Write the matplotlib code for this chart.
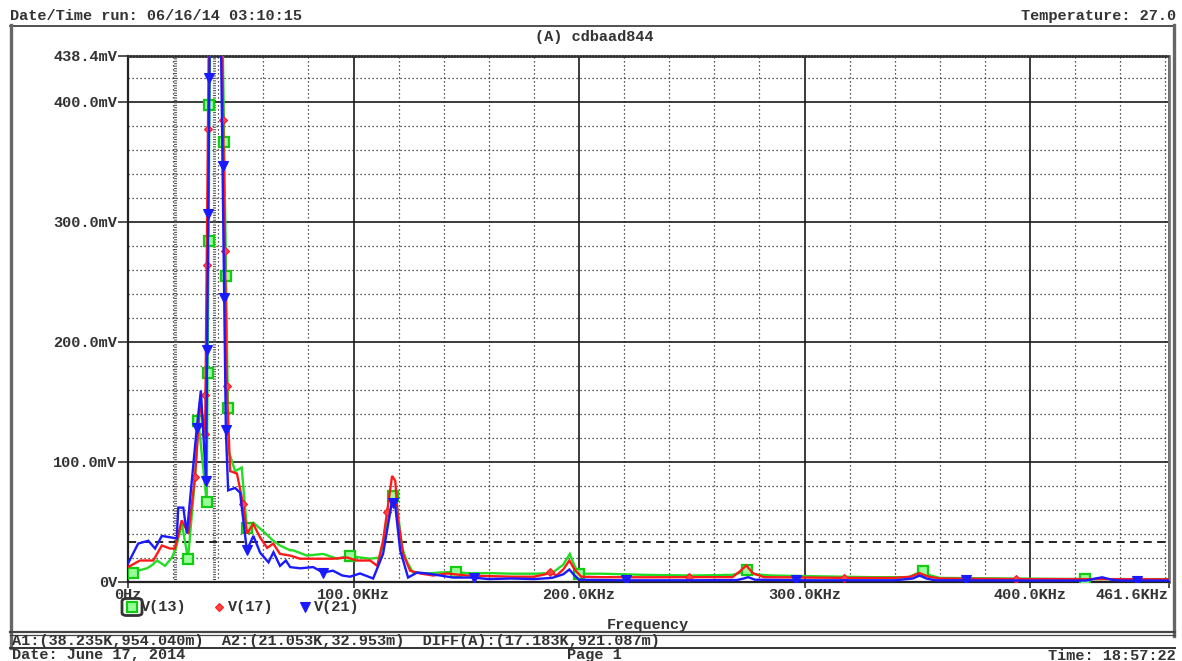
import numpy as np
import matplotlib
matplotlib.use("Agg")
import matplotlib.pyplot as plt
from matplotlib.lines import Line2D
from matplotlib.patches import FancyBboxPatch
from matplotlib.ticker import MultipleLocator

# ---------------- data (frequency in kHz, magnitude in mV) ----------------
f_v13 = [0, 2.2, 4.5, 8.4, 10.9, 12.9, 16.4, 19.5, 21.3, 23.9, 26.6, 29.7, 31.2,
         34.9, 38.2, 44.3, 44.6, 47.5, 50.4, 52.7, 55.6, 59.9, 64.4, 67.4, 71.9,
         73.2, 79.4, 86.5, 92.7, 98.4, 102.9, 107.4, 111.8, 114.5, 117.6, 118.8,
         121.6, 123.8, 126.4, 132.7, 138.4, 144.2, 150, 160, 170, 180, 188, 193,
         195.9, 198, 200.2, 210, 230, 250, 268, 271, 274.5, 278, 285, 300, 330,
         346, 349, 352.3, 355, 360, 390, 424.3, 461.6]
v_v13 = [2.5, 7.5, 9, 11, 14, 17.5, 13, 20, 28, 48, 19, 86, 134,
         66, 954, 145, 109, 92, 95, 45, 49, 42, 34, 30, 26,
         26, 21.6, 23, 19, 21.6, 20, 19, 20, 45, 71.5, 70,
         28, 16, 7.5, 6.7, 7.5, 8, 7, 7, 6.5, 6.5, 7, 14,
         23, 13, 6.5, 6.5, 5.5, 5, 5.5, 7, 9.2, 6, 5, 4.5, 3.6,
         3.6, 6, 9, 5.5, 3, 2.5, 2, 2]

f_v17 = [0, 5.3, 11.2, 15.0, 18.6, 20.8, 23.8, 26.8, 29.7, 32.0, 34.2, 38.2,
         43.8, 45.3, 48.3, 51.0, 52.8, 55.5, 58.5, 61.7, 64.4, 67.4, 71.9, 76.3,
         83.9, 90.9, 97.1, 101.6, 107.4, 110.5, 113.1, 117.1, 118.5, 119.8, 122.0,
         125.1, 129.5, 135.3, 141.5, 150, 160, 170, 180, 185, 187.3, 190, 193,
         195.7, 198, 201, 210, 230, 248.7, 268, 271, 274.2, 277, 282, 300, 320,
         340, 347, 351, 355, 360, 393.7, 430, 461.6]
v_v17 = [12, 17.5, 17.5, 30, 27.5, 27.5, 51, 40, 87, 150, 123, 930,
         163, 92, 90, 65, 40, 48, 37, 28, 31.6, 23, 21.6, 19,
         19, 19, 20, 17.5, 17.5, 13, 34, 88, 84, 51, 23,
         9, 6.7, 5, 6.7, 5, 4.5, 4, 4, 6, 7.7, 5, 10,
         17.5, 10, 4, 3.6, 3.5, 3.6, 3.6, 8, 13.3, 7, 3.6, 3.3, 3,
         3, 4, 7, 4, 2.5, 2, 2, 1.8]

f_v21 = [0, 4.5, 9.0, 12.0, 15.0, 19.4, 21.6, 22.3, 24.5, 26.1, 30.5, 32.3,
         34.6, 38.2, 43.4, 44.4, 47.5, 49.7, 52.7, 55.6, 58.6, 62.3, 64.5, 67.4,
         70.0, 71.9, 76.3, 82.1, 86.5, 90.9, 95.0, 98.4, 102.9, 108.7, 113.1,
         117.1, 118.5, 120.7, 124.2, 128.2, 132.7, 138.4, 144.2, 152.9, 160, 170,
         180, 188, 193, 195.7, 198, 200, 220, 250, 270, 273, 275, 278, 300, 340,
         348, 351, 354, 358, 400, 425, 429, 432, 436, 440, 461.6]
v_v21 = [15, 31.6, 34, 27.5, 38, 36.6, 35.8, 61.6, 61.6, 40, 128, 159,
         84, 900, 126, 76, 78, 74, 26, 38, 24, 16, 24.4, 13,
         17.5, 12, 11, 12, 7.5, 9, 5, 4, 6.7, 2.5, 23,
         67, 63, 26, 3.3, 7.5, 6.7, 5, 3.3, 3.3, 2, 2.5,
         2, 3, 6, 10, 5, 1.5, 1, 1, 1.2, 2.5, 3.6, 1.5, 1, 1,
         2.5, 5, 2.5, 1, 0.8, 0.8, 2.5, 3.5, 1.5, 0.8, 0.8]

# frequencies at which each trace carries a symbol
mk_v13 = [2.2, 26.6, 31.2, 34.9, 35.30, 35.71, 36.13, 42.63, 43.47, 44.3, 52.7,
          98.4, 117.6, 145.6, 200.2, 274.5, 352.3, 424.3]
mk_v17 = [29.7, 34.2, 34.36, 34.90, 35.46, 42.18, 42.98, 43.8, 51.0, 114.9,
          187.3, 248.7, 317.5, 393.7]
mk_v21 = [30.5, 34.6, 35.08, 35.58, 36.08, 41.92, 42.66, 43.4, 52.7, 86.5,
          117.6, 153.3, 221.0, 296.4, 371.6, 447.6]

# cursor readout
cur_a1 = (38.235, 954.040)
cur_a2 = (21.053, 32.953)

x_ticks = [0, 100, 200, 300, 400, 461.6]
x_labels = ["0Hz", "100.0KHz", "200.0KHz", "300.0KHz", "400.0KHz", "461.6KHz"]
y_ticks = [0, 100, 200, 300, 400, 438.4]
y_labels = ["0V", "100.0mV", "200.0mV", "300.0mV", "400.0mV", "438.4mV"]

# ---------------- figure ----------------
W, H = 1182, 661
FONT = "Liberation Mono"
FS = 11
plt.rcParams["font.family"] = [FONT, "DejaVu Sans Mono"]

fig = plt.figure(figsize=(W / 100, H / 100), dpi=100)


def fx(px):
    return px / W


def fy(py):
    return 1 - py / H


left, right, top, bottom = 128, 1169, 55.6, 581.5
ax = fig.add_axes([fx(left), fy(bottom), fx(right - left), (bottom - top) / H])
ax.set_xlim(0, 461.6)
ax.set_ylim(0, 438.4)

# grid: solid major lines, dotted minor lines
ax.xaxis.set_minor_locator(MultipleLocator(20))
ax.yaxis.set_minor_locator(MultipleLocator(20))
ax.set_xticks(x_ticks)
ax.set_yticks(y_ticks)
ax.grid(which="major", color="#1a1a1a", lw=1.2, ls="-")
ax.grid(which="minor", color="#222222", lw=0.9, ls=(0, (1, 2.2)))
ax.set_axisbelow(True)
ax.tick_params(which="minor", length=0)
ax.tick_params(axis="y", which="major", length=7, width=1.2, pad=1,
               labelsize=FS, color="#333333")
ax.tick_params(axis="x", which="major", length=4.5, width=1.2, pad=0,
               labelsize=FS, color="#333333")
ax.set_xticklabels(x_labels, fontweight="bold", color="#333333")
ax.set_yticklabels(y_labels, fontweight="bold", color="#333333")
xl = ax.get_xticklabels()
xl[-1].set_horizontalalignment("right")

for s in ("left", "bottom"):
    ax.spines[s].set_color("#222222")
    ax.spines[s].set_linewidth(1.6)
ax.spines["right"].set_color("#777777")
ax.spines["right"].set_linewidth(2)
ax.spines["top"].set_color("#333333")
ax.spines["top"].set_linewidth(1.8)
ax.spines["top"].set_linestyle((0, (0.6, 0.6)))

# cursor lines
for xc in (cur_a1[0], cur_a2[0]):
    ax.axvline(xc, color="#555555", lw=2.2, ls=(0, (0.35, 0.45)), zorder=1.5)
ax.axhline(cur_a2[1], color="#111111", lw=1.3, ls=(0, (4.5, 3)), zorder=1.6)
if cur_a1[1] <= 438.4:
    ax.axhline(cur_a1[1], color="#111111", lw=1.3, ls=(0, (4.5, 3)), zorder=1.6)

# traces
traces = [
    (f_v13, v_v13, mk_v13, "#22dd22", dict(marker="s", ms=6.5, mfc="#99ff99",
                                           mec="#11cc11", mew=1.6)),
    (f_v17, v_v17, mk_v17, "#ff1a1a", dict(marker="D", ms=4.2, mfc="#ff4444",
                                           mec="#ff1a1a", mew=0.8)),
    (f_v21, v_v21, mk_v21, "#1a1aff", dict(marker="v", ms=6.5, mfc="#1a1aff",
                                           mec="#1a1aff", mew=0.8)),
]
for i, (f, v, mk, col, mstyle) in enumerate(traces):
    ax.plot(f, v, color=col, lw=1.7, zorder=3 + i, solid_joinstyle="miter")
    ax.plot(mk, np.interp(mk, f, v), ls="none", zorder=3.5 + i, clip_on=True,
            **mstyle)

# ---------------- page furniture ----------------
txt = dict(fontsize=FS, fontweight="bold", color="#333333", family=[FONT])
fig.text(fx(10), fy(16), "Date/Time run: 06/16/14 03:10:15", ha="left", va="center", **txt)
fig.text(fx(1176), fy(16), "Temperature: 27.0", ha="right", va="center", **txt)
fig.text(fx(594), fy(37), "(A) cdbaad844", ha="center", va="center", **txt)
fig.text(fx(648), fy(625), "Frequency", ha="center", va="center", **txt)
fig.text(fx(12), fy(641),
         "A1:(38.235K,954.040m)  A2:(21.053K,32.953m)  DIFF(A):(17.183K,921.087m)",
         ha="left", va="center", **txt)
fig.text(fx(12), fy(655.5), "Date: June 17, 2014", ha="left", va="center", **txt)
fig.text(fx(594), fy(655.5), "Page 1", ha="center", va="center", **txt)
fig.text(fx(1176), fy(655.5), "Time: 18:57:22", ha="right", va="center", **txt)


def hline(y, x0, x1, lw, col):
    fig.add_artist(Line2D([fx(x0), fx(x1)], [fy(y), fy(y)], lw=lw, color=col,
                          transform=fig.transFigure))


def vline(x, y0, y1, lw, col):
    fig.add_artist(Line2D([fx(x), fx(x)], [fy(y0), fy(y1)], lw=lw, color=col,
                          transform=fig.transFigure))


hline(25.5, 10, 1175, 1.2, "#333333")
vline(10.5, 25, 648, 2.4, "#666666")
vline(1174, 25, 636, 2.4, "#666666")
hline(632, 10, 1175, 1.6, "#444444")
hline(634.5, 10, 1175, 0.9, "#444444")
hline(648, 10, 1175, 1.4, "#333333")

# legend row
leg_y = 607
entries = [(132, "V(13)", traces[0]), (219, "V(17)", traces[1]), (305, "V(21)", traces[2])]
for xm, name, tr in entries:
    fig.add_artist(Line2D([fx(xm)], [fy(leg_y)], ls="none", transform=fig.transFigure,
                          **tr[4]))
    fig.text(fx(xm + 9), fy(leg_y), name, ha="left", va="center", **txt)
fig.add_artist(FancyBboxPatch((fx(122), fy(615.5)), fx(20), (615.5 - 598.5) / H,
                              boxstyle="round,pad=0,rounding_size=0.004",
                              transform=fig.transFigure, fill=False,
                              ec="#333333", lw=2))

fig.savefig("out.png", dpi=100, facecolor="white")
